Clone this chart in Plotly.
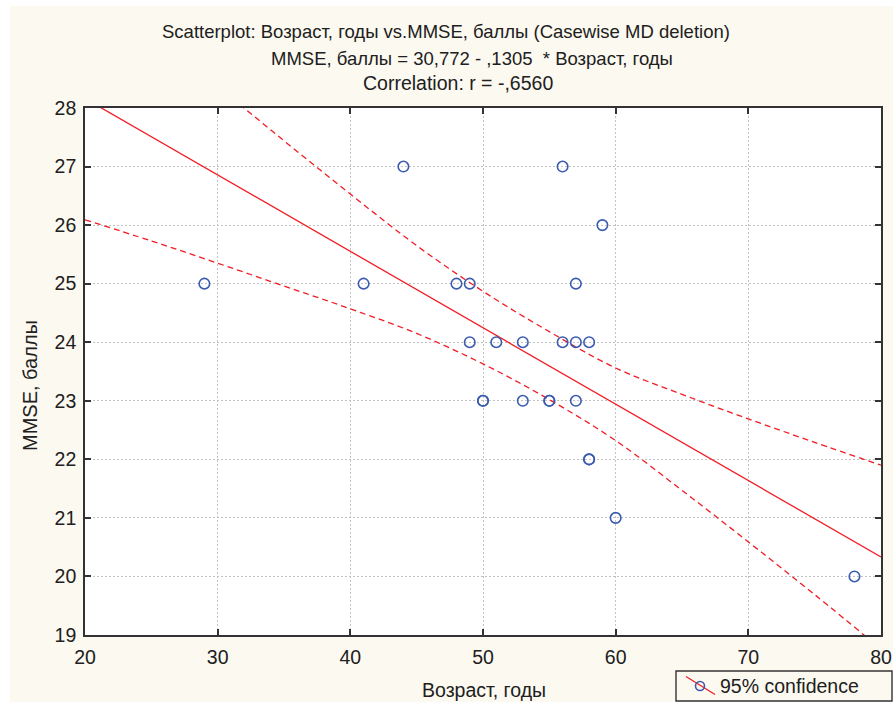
import plotly.graph_objects as go

# ---------------- data ----------------
age = [29, 41, 44, 48, 49, 49, 50, 50, 51, 53, 53, 55, 55, 56, 56, 57, 57, 57, 58, 58, 58, 59, 60, 78]
mmse = [25, 25, 27, 25, 25, 24, 23, 23, 24, 24, 23, 23, 23, 27, 24, 24, 25, 23, 24, 22, 22, 26, 21, 20]

intercept = 30.772
slope = -0.1305

ci_x = [20, 25, 30, 35, 40, 45, 50, 55, 60, 65, 70, 75, 80]
ci_upper = [30.23, 29.29, 28.37, 27.44, 26.53, 25.65, 24.87, 24.18, 23.56, 23.11, 22.69, 22.29, 21.90]
ci_lower = [26.09, 25.73, 25.35, 24.96, 24.57, 24.15, 23.63, 23.02, 22.32, 21.47, 20.59, 19.69, 18.76]

x_ticks = [20, 30, 40, 50, 60, 70, 80]
y_ticks = [19, 20, 21, 22, 23, 24, 25, 26, 27, 28]

title_lines = [
    "Scatterplot: Возраст, годы vs.MMSE, баллы (Casewise MD deletion)",
    "MMSE, баллы = 30,772 - ,1305 \u00a0* Возраст, годы",
    "Correlation: r = -,6560",
]
x_title = "Возраст, годы"
y_title = "MMSE, баллы"
legend_text = "95% confidence"

# ---------------- layout geometry (page pixels) ----------------
W, H = 893, 702
L, R, T, B = 85, 881, 108, 635      # plot area
PW, PH = R - L, B - T


def px(x):
    return (x - L) / PW


def py(y):
    return (B - y) / PH


FONT = "Liberation Sans, Arial, sans-serif"
RED = "#f21c24"
BLUE = "#3a5bb0"
CREAM = "#fcf9f0"
TXT = "#202020"

fit_x = [x_ticks[0], x_ticks[-1]]
fit_y = [intercept + slope * v for v in fit_x]

fig = go.Figure()
fig.add_trace(go.Scatter(x=ci_x, y=ci_upper, mode="lines", line=dict(color=RED, width=1.3, dash="6px,4px", shape="spline"),
                         showlegend=False, hoverinfo="skip"))
fig.add_trace(go.Scatter(x=ci_x, y=ci_lower, mode="lines", line=dict(color=RED, width=1.3, dash="6px,4px", shape="spline"),
                         showlegend=False, hoverinfo="skip"))
fig.add_trace(go.Scatter(x=fit_x, y=fit_y, mode="lines", line=dict(color=RED, width=1.3), showlegend=False))
fig.add_trace(go.Scatter(x=age, y=mmse, mode="markers",
                         marker=dict(symbol="circle-open", size=10.5, color=BLUE, line=dict(width=1.6, color=BLUE)),
                         showlegend=False, cliponaxis=False))

axis_common = dict(
    showgrid=True, gridcolor="#c2c2c2", griddash="2px,2px", gridwidth=1,
    zeroline=False, showline=True, linecolor="#333333", linewidth=1.6, mirror="ticks",
    ticks="inside", ticklen=6, tickwidth=1.5, tickcolor="#333333",
    tickfont=dict(family=FONT, size=19.5, color=TXT), automargin=False,
)

fig.update_xaxes(range=[20, 80], tickvals=x_ticks, ticklabelstandoff=4, **axis_common)
fig.update_yaxes(range=[19, 28], tickvals=y_ticks, ticklabelstandoff=3, **axis_common)

annotations = []
for text, cx, cy, fs in zip(title_lines, [446, 472, 458], [31, 59, 83], [18.5, 18.5, 19.5]):
    annotations.append(dict(text=text, x=px(cx), y=py(cy), xref="paper", yref="paper",
                            xanchor="center", yanchor="middle", showarrow=False,
                            font=dict(family=FONT, size=fs, color=TXT)))
annotations.append(dict(text=x_title, x=px(484), y=py(690), xref="paper", yref="paper",
                        xanchor="center", yanchor="middle", showarrow=False,
                        font=dict(family=FONT, size=19.5, color=TXT)))
annotations.append(dict(text=y_title, x=px(30), y=py(386), xref="paper", yref="paper", textangle=-90,
                        xanchor="center", yanchor="middle", showarrow=False,
                        font=dict(family=FONT, size=20, color=TXT)))
annotations.append(dict(text=legend_text, x=px(718), y=py(686), xref="paper", yref="paper",
                        xanchor="left", yanchor="middle", showarrow=False,
                        font=dict(family=FONT, size=19.5, color=TXT)))

shapes = [
    # white outer strips (left and top) around the cream background
    dict(type="rect", xref="paper", yref="paper", x0=px(0), x1=px(10), y0=py(H), y1=py(0),
         fillcolor="white", line=dict(width=0), layer="below"),
    dict(type="rect", xref="paper", yref="paper", x0=px(0), x1=px(W), y0=py(6), y1=py(0),
         fillcolor="white", line=dict(width=0), layer="below"),
    # legend box
    dict(type="rect", xref="paper", yref="paper", x0=px(676), x1=px(892), y0=py(701), y1=py(671),
         line=dict(color="#333333", width=1.4)),
    dict(type="line", xref="paper", yref="paper", x0=px(686), y0=py(676.5), x1=px(715), y1=py(694.5),
         line=dict(color=RED, width=1.3)),
    dict(type="circle", xref="paper", yref="paper", x0=px(695.5), x1=px(704.5), y0=py(690.5), y1=py(681.5),
         line=dict(color=BLUE, width=1.6), fillcolor="rgba(0,0,0,0)"),
]

fig.update_layout(
    width=W, height=H,
    margin=dict(l=L, r=W - R, t=T, b=H - B, autoexpand=False),
    paper_bgcolor=CREAM, plot_bgcolor="white",
    showlegend=False,
    annotations=annotations, shapes=shapes,
    font=dict(family=FONT),
)

fig.write_html(
    "out.html",
    config={"displayModeBar": False},
    post_script="document.body.style.margin='0';document.documentElement.style.overflow='hidden';",
)
